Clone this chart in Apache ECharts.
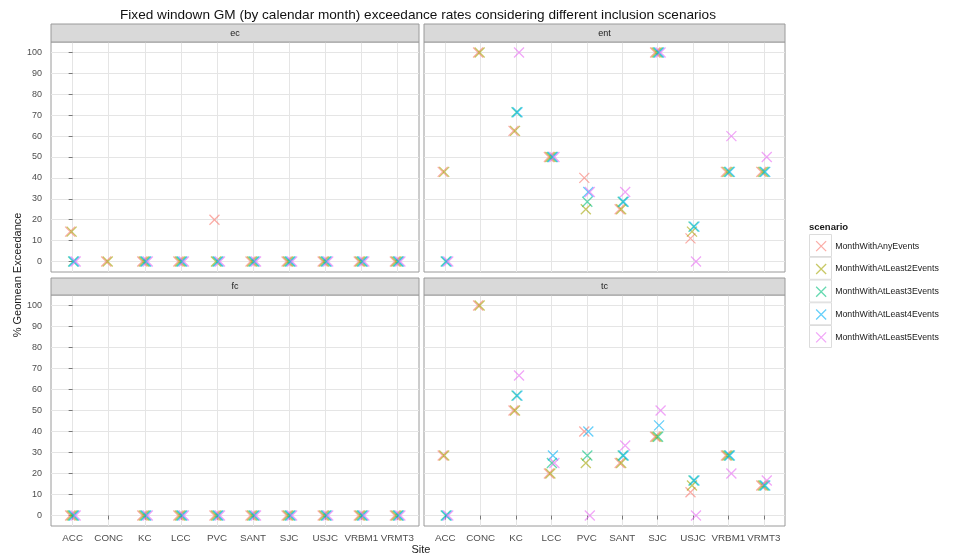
<!DOCTYPE html>
<html><head><meta charset="utf-8">
<script src="https://cdn.jsdelivr.net/npm/echarts@6/dist/echarts.min.js"></script>
<style>html,body{margin:0;padding:0;background:#fff}#c{width:955px;height:554px}</style>
</head><body><div id="c"></div>
<script>
const sites = ['ACC','CONC','KC','LCC','PVC','SANT','SJC','USJC','VRBM1','VRMT3'];
const scenarios = ['MonthWithAnyEvents','MonthWithAtLeast2Events','MonthWithAtLeast3Events','MonthWithAtLeast4Events','MonthWithAtLeast5Events'];
const panelNames = ['ec','ent','fc','tc'];
const yTicks = [0,10,20,30,40,50,60,70,80,90,100];

// ec
const ec_any  = [14.3,0,0,0,20,0,0,0,0,0];
const ec_al2  = [14.3,0,0,0,0,0,0,0,0,0];
const ec_al3  = [0,null,0,0,0,0,0,0,0,0];
const ec_al4  = [0,null,0,0,0,0,0,0,0,0];
const ec_al5  = [0,null,0,0,0,0,0,0,0,0];
// ent
const ent_any = [42.9,100,62.5,50,40,25,100,11.1,42.9,42.9];
const ent_al2 = [42.9,100,62.5,50,25,25,100,14.3,42.9,42.9];
const ent_al3 = [0,null,71.4,50,28.6,28.6,100,16.7,42.9,42.9];
const ent_al4 = [0,null,71.4,50,33.3,28.6,100,16.7,42.9,42.9];
const ent_al5 = [0,null,100,50,33.3,33.3,100,0,60,50];
// fc
const fc_any  = [0,null,0,0,0,0,0,0,0,0];
const fc_al2  = [0,null,0,0,0,0,0,0,0,0];
const fc_al3  = [0,null,0,0,0,0,0,0,0,0];
const fc_al4  = [0,null,0,0,0,0,0,0,0,0];
const fc_al5  = [0,null,0,0,0,0,0,0,0,0];
// tc
const tc_any  = [28.6,100,50,20,40,25,37.5,11.1,28.6,14.3];
const tc_al2  = [28.6,100,50,20,25,25,37.5,14.3,28.6,14.3];
const tc_al3  = [0,null,57.1,25,28.6,28.6,37.5,16.7,28.6,14.3];
const tc_al4  = [0,null,57.1,28.6,40,28.6,42.9,16.7,28.6,14.3];
const tc_al5  = [0,null,66.7,25,0,33.3,50,0,20,16.7];

const panelData = [
  [ec_any, ec_al2, ec_al3, ec_al4, ec_al5],
  [ent_any, ent_al2, ent_al3, ent_al4, ent_al5],
  [fc_any, fc_al2, fc_al3, fc_al4, fc_al5],
  [tc_any, tc_al2, tc_al3, tc_al4, tc_al5]
];

const colors = ['#F8766D','#A3A500','#00BF7D','#00B0F6','#E76BF3'];
const jit = [-2.5,-1,0.5,1.5,3];
const FONT = '"Liberation Sans", Arial, sans-serif';
const boxes = [
  {left:51, top:42, width:368, height:230, stripTop:24},
  {left:424, top:42, width:361, height:230, stripTop:24},
  {left:51, top:295, width:368, height:231, stripTop:278},
  {left:424, top:295, width:361, height:231, stripTop:278}
];
const xIdx = sites.map((s,i)=>i);
const XSYM = 'path://M0,0L10,10M10,0L0,10';

const grids = [], xAxes = [], yAxes = [], series = [], graphics = [];
boxes.forEach((b,p)=>{
  const isLeft = p % 2 === 0, isBottom = p >= 2;
  grids.push({left:b.left, top:b.top, width:b.width, height:b.height, show:true,
    borderColor:'#9a9a9a', borderWidth:1, backgroundColor:'#fff', containLabel:false});
  xAxes.push({type:'value', gridIndex:p, min:-0.6, max:9.6,
    axisLine:{show:false},
    axisTick:{show:isBottom, length:4, lineStyle:{color:'#777'}, customValues:xIdx},
    axisLabel:{show:isBottom, customValues:xIdx, formatter:v=>sites[Math.round(v)], color:'#4d4d4d', fontSize:9.8, fontFamily:FONT, margin:7},
    splitLine:{show:true, lineStyle:{color:'#e5e5e5', width:1}}
  });
  yAxes.push({type:'value', gridIndex:p, min:-5, max:105,
    axisLine:{show:false},
    axisTick:{show:isLeft, length:4, lineStyle:{color:'#777'}, customValues:yTicks},
    axisLabel:{show:isLeft, customValues:yTicks, color:'#4d4d4d', fontSize:9, fontFamily:FONT, margin:9},
    splitLine:{show:true, lineStyle:{color:'#e5e5e5', width:1}}
  });
  panelData[p].forEach((arr,s)=>{
    series.push({type:'scatter', name:scenarios[s], xAxisIndex:p, yAxisIndex:p,
      symbol:XSYM, symbolSize:10, symbolOffset:[jit[s],0],
      itemStyle:{color:colors[s], borderColor:colors[s], borderWidth:1.3, opacity:0.6},
      emphasis:{disabled:true},
      data: arr.map((v,i)=> v===null ? null : [xIdx[i], v])
    });
  });
  graphics.push({type:'rect', shape:{x:b.left, y:b.stripTop, width:b.width, height:b.top-b.stripTop},
    style:{fill:'#d9d9d9', stroke:'#9a9a9a', lineWidth:1}, z:1});
  graphics.push({type:'text', x:b.left+b.width/2, y:b.stripTop+(b.top-b.stripTop)/2+0.5,
    style:{text:panelNames[p], fill:'#1a1a1a', fontSize:9, fontFamily:FONT, align:'center', verticalAlign:'middle'}, z:2});
});
// legend keys
scenarios.forEach((s,k)=>{
  graphics.push({type:'rect', shape:{x:809.5, y:234.5+k*22.75, width:22, height:22},
    style:{fill:'#fff', stroke:'#dcdcdc', lineWidth:1}, z:0});
});
graphics.push({type:'text', x:809, y:227, style:{text:'scenario', fill:'#1a1a1a', fontSize:9.5, fontWeight:'bold', fontFamily:FONT, align:'left', verticalAlign:'middle'}});
graphics.push({type:'text', x:18, y:275, rotation:Math.PI/2, style:{text:'% Geomean Exceedance', fill:'#1a1a1a', fontSize:11, fontFamily:FONT, align:'center', verticalAlign:'middle'}});
graphics.push({type:'text', x:421, y:550, style:{text:'Site', fill:'#1a1a1a', fontSize:11, fontFamily:FONT, align:'center', verticalAlign:'middle'}});
graphics.push({type:'text', x:418, y:15, style:{text:'Fixed windown GM (by calendar month) exceedance rates considering different inclusion scenarios', fill:'#111', fontSize:13.6, fontFamily:FONT, align:'center', verticalAlign:'middle'}});

const option = {
  animation:false,
  backgroundColor:'#fff',
  legend:{data:scenarios, orient:'vertical', left:815.5, top:240.5, padding:0, itemWidth:10, itemHeight:10, itemGap:11.5,
    icon:XSYM,
    itemStyle:{borderWidth:1.3, opacity:0.6}, selectedMode:false, z:5,
    textStyle:{fontSize:8.8, lineHeight:10, color:'#1a1a1a', fontFamily:FONT, padding:[0,0,0,4]}},
  grid:grids, xAxis:xAxes, yAxis:yAxes, series:series, graphic:graphics
};
const chart = echarts.init(document.getElementById('c'), null, {renderer:'canvas'});
chart.setOption(option);
</script></body></html>
